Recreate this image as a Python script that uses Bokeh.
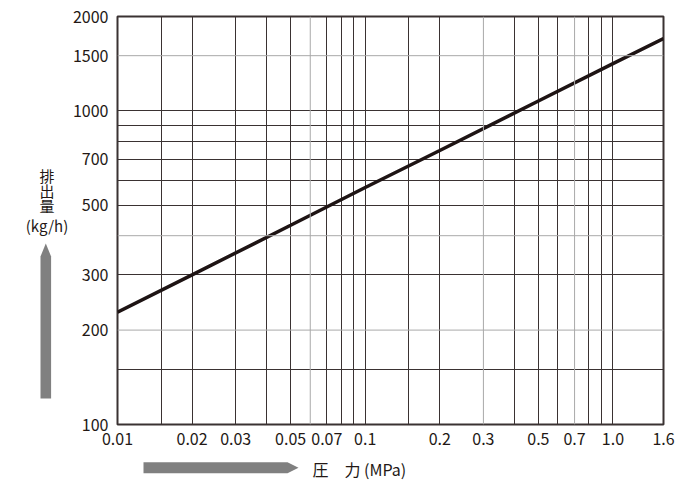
from bokeh.plotting import figure
from bokeh.layouts import column, row
from bokeh.models import Range1d, FixedTicker, CustomJSTickFormatter, Span
from bokeh.core.properties import value
from bokeh.embed import file_html
from bokeh.resources import INLINE

# ---- data ----
pressure = [0.01, 0.02, 0.05, 0.1, 0.2, 0.5, 1.0, 1.6]          # MPa
discharge = [228, 300, 432, 570, 748, 1075, 1415, 1700]         # kg/h

x_ticks = [0.01, 0.02, 0.03, 0.05, 0.07, 0.1, 0.2, 0.3, 0.5, 0.7, 1.0, 1.6]
x_labels = ["0.01", "0.02", "0.03", "0.05", "0.07", "0.1", "0.2", "0.3",
            "0.5", "0.7", "1.0", "1.6"]
y_ticks = [100, 200, 300, 500, 700, 1000, 1500, 2000]
y_labels = ["100", "200", "300", "500", "700", "1000", "1500", "2000"]

x_grid_dark = [0.015, 0.02, 0.03, 0.04, 0.05, 0.07, 0.08, 0.09, 0.1, 0.15,
               0.2, 0.4, 0.5, 0.6, 0.8, 0.9, 1.0]
x_grid_light = [0.06, 0.3, 0.7]
y_grid_dark = [150, 300, 500, 600, 700, 800, 900, 1000]
y_grid_light = [200, 400, 1500]

x_title = "圧　力 (MPa)"
y_title_chars = ["排", "出", "量"]
y_title_unit = "(kg/h)"

FONT = "Noto Sans CJK JP"
DARK = "#3a3232"
LIGHT = "#a9a9a9"
TXT = "#231815"
ARROW = "#808080"
FS = "16px"

# ---- layout sizes (page pixels) ----
LEFT_W = 69          # side panel holding the y title
FRAME_TOP, FRAME_BOTTOM = 16, 424
TOP_H = 454          # height of the top row
BOTTOM_H = 27        # strip holding the x title

# ---- main chart ----
p = figure(frame_width=546, frame_height=FRAME_BOTTOM - FRAME_TOP, title=None,
           x_axis_type="log", y_axis_type="log",
           x_range=Range1d(0.01, 1.6), y_range=Range1d(100, 2000),
           output_backend="svg", toolbar_location=None,
           min_border_left=117 - LEFT_W, min_border_right=36,
           min_border_top=FRAME_TOP, min_border_bottom=TOP_H - FRAME_BOTTOM)
p.background_fill_color = "white"
p.border_fill_color = "white"
p.outline_line_color = DARK
p.outline_line_width = 2

p.xgrid.ticker = FixedTicker(ticks=x_grid_dark)
p.ygrid.ticker = FixedTicker(ticks=y_grid_dark)
for g in (p.xgrid, p.ygrid):
    g.grid_line_color = DARK
    g.grid_line_width = 1
    g.grid_line_alpha = 1
for v in x_grid_light:
    p.add_layout(Span(location=v, dimension="height", line_color=LIGHT, line_width=1))
for v in y_grid_light:
    p.add_layout(Span(location=v, dimension="width", line_color=LIGHT, line_width=1))

fmt_code = """
for (let i = 0; i < tv.length; i++) {
  if (Math.abs(tv[i] - tick) <= 1e-9 * Math.abs(tv[i])) return tl[i];
}
return '';
"""
p.xaxis.ticker = FixedTicker(ticks=x_ticks)
p.xaxis.formatter = CustomJSTickFormatter(args=dict(tv=x_ticks, tl=x_labels), code=fmt_code)
p.yaxis.ticker = FixedTicker(ticks=y_ticks)
p.yaxis.formatter = CustomJSTickFormatter(args=dict(tv=y_ticks, tl=y_labels), code=fmt_code)

for ax in (p.xaxis, p.yaxis):
    ax.axis_line_color = None
    ax.major_tick_line_color = None
    ax.minor_tick_line_color = None
    ax.major_tick_out = 0
    ax.major_tick_in = 0
    ax.minor_tick_out = 0
    ax.minor_tick_in = 0
    ax.major_label_text_font = FONT
    ax.major_label_text_font_size = FS
    ax.major_label_text_color = TXT
p.xaxis.major_label_standoff = 8
p.yaxis.major_label_standoff = 9

p.line(pressure, discharge, line_color="#1e1414", line_width=3.5)


# ---- decoration panels (coordinates are page pixels, y downward) ----
def blank(w, y0, y1, x0=0):
    f = figure(frame_width=w, frame_height=y1 - y0, title=None,
               x_range=Range1d(x0, x0 + w), y_range=Range1d(y1, y0),
               output_backend="svg", toolbar_location=None,
               x_axis_location=None, y_axis_location=None,
               min_border=0, min_border_left=0, min_border_right=0,
               min_border_top=0, min_border_bottom=0)
    f.outline_line_color = None
    f.xgrid.visible = False
    f.ygrid.visible = False
    f.background_fill_color = "white"
    f.border_fill_color = "white"
    return f


# the row aligns this panel's frame with the chart's frame
left = blank(LEFT_W, FRAME_TOP, FRAME_BOTTOM)
left.patch([40, 50.6, 50.6, 45.3, 40], [398, 398, 256, 243, 256],
           fill_color=ARROW, line_color=None)
left.text(x=[46.5] * len(y_title_chars), y=[175, 189.5, 204.5], text=y_title_chars,
          text_font=value(FONT), text_font_size="15px", text_color=TXT,
          text_align="center", text_baseline="middle")
left.text(x=[46.5], y=[224.5], text=[y_title_unit],
          text_font=value(FONT), text_font_size="15px", text_color=TXT,
          text_align="center", text_baseline="middle")

bottom = blank(699, TOP_H, TOP_H + BOTTOM_H)
bottom.patch([143, 287, 298, 287, 143], [461.7, 461.7, 467.2, 472.7, 472.7],
             fill_color=ARROW, line_color=None)
bottom.text(x=[312], y=[468.5], text=[x_title],
            text_font=value(FONT), text_font_size=FS, text_color=TXT,
            text_align="left", text_baseline="middle")

layout = column(row(left, p, spacing=0), bottom, spacing=0)
open("out.html", "w").write(file_html(layout, INLINE))
